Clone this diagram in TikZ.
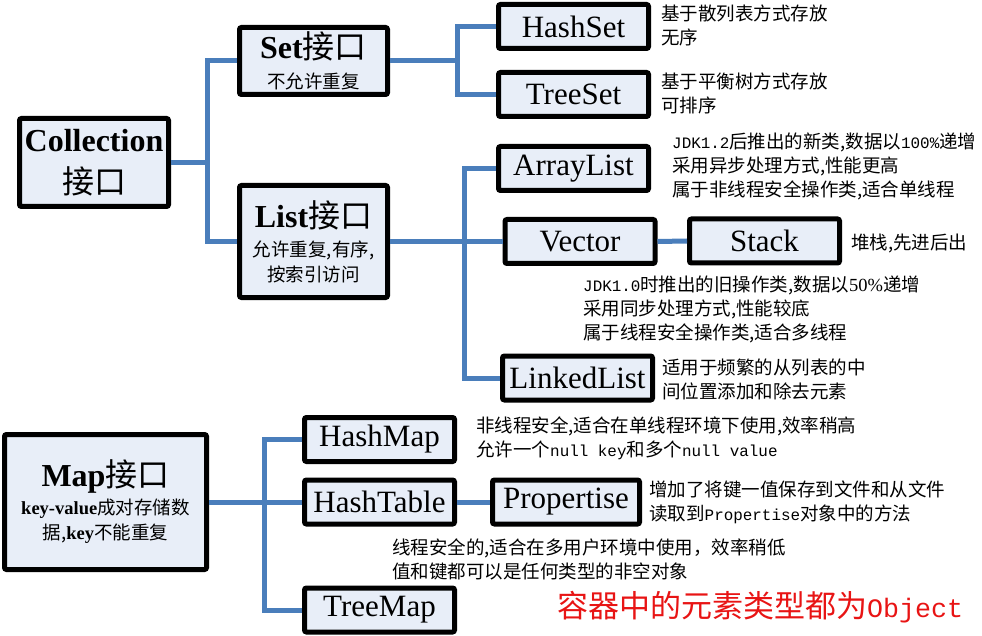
\documentclass[tikz,border=0pt]{standalone}
\usepackage{fontspec}
\setmainfont{Liberation Serif}
\newfontfamily\cjk{Noto Sans CJK SC}
\newfontfamily\mono[Scale=0.86]{Liberation Mono}
\usepackage{xcolor}
\definecolor{linkblue}{HTML}{4A7EBB}
\definecolor{boxfill}{HTML}{E8EEF8}
\definecolor{notered}{HTML}{E81414}
\usetikzlibrary{positioning}

\newcommand{\titlefont}{\fontsize{32}{36}\selectfont\bfseries}
\newcommand{\namefont}{\fontsize{31}{36}\selectfont}
\newcommand{\subfont}{\fontsize{18.5}{24}\selectfont}

\begin{document}
\begin{tikzpicture}[x=1pt, y=-1pt,
	box/.style={draw=black, line width=5pt, fill=boxfill, rounded corners=2pt, inner sep=0pt,
		align=center, minimum width=150pt, minimum height=44pt, font=\namefont},
	link/.style={draw=linkblue, line width=5pt},
	note/.style={anchor=west, inner sep=0pt, align=left, font=\subfont\cjk}]
	
	\useasboundingbox (0,0) rectangle (982,636);
	
	%interface boxes
	\node[box, minimum width=149pt, minimum height=88pt] (coll) at (94,162.5)
		{{\titlefont Collection}\\[6.5pt]{\titlefont\mdseries\cjk 接口}};
	\node[box, minimum width=148pt, minimum height=67pt] (set) at (313.5,61)
		{{\titlefont Set{\mdseries\cjk 接口}}\\[-6.5pt]{\subfont\cjk 不允许重复}};
	\node[box, minimum width=148pt, minimum height=112pt] (list) at (313.5,241.5)
		{{\titlefont List{\mdseries\cjk 接口}}\\[-7pt]{\subfont\cjk 允许重复,有序,}\\[-11pt]{\subfont\cjk 按索引访问}};
	\node[box, minimum width=202pt, minimum height=135pt] (map) at (105.5,502)
		{{\titlefont Map{\mdseries\cjk 接口}}\\[-8pt]{\subfont\textbf{key-value}\cjk 成对存储数}\\[-11pt]{\subfont{\cjk 据,}\textbf{key}\cjk 不能重复}};
	
	%class boxes
	\node[box] (hashset) at (573.5,26.5) {HashSet};
	\node[box] (treeset) at (573.5,94.5) {TreeSet};
	\node[box] (arraylist) at (573.5,168.5) {ArrayList};
	\node[box] (vector) at (580,241.5) {Vector};
	\node[box] (stack) at (764.5,241) {Stack};
	\node[box] (linkedlist) at (577.5,378) {LinkedList};
	\node[box] (hashmap) at (379.5,439.5) {HashMap};
	\node[box] (hashtable) at (379.5,502) {HashTable};
	\node[box] (treemap) at (379.5,610) {TreeMap};
	\node[box, minimum width=147pt] (propertise) at (566,502) {Propertise};
	
	%junctions
	\coordinate (cj) at (207,0);
	\coordinate (sj) at (457,0);
	\coordinate (lj) at (464,0);
	\coordinate (mj) at (264,0);
	
	%connectors
	\draw[link] (coll.east) -- (coll.east -| cj);
	\draw[link] (set.west) -| (cj |- list.west) -- (list.west);
	\draw[link] (set.east) -- (set.east -| sj);
	\draw[link] (hashset.west) -| (sj |- treeset.west) -- (treeset.west);
	\draw[link] (list.east) -- (vector.west);
	\draw[link] (arraylist.west) -| (lj |- linkedlist.west) -- (linkedlist.west);
	\draw[link] (vector.east) -- (stack.west);
	\draw[link] (map.east) -- (hashtable.west);
	\draw[link] (hashmap.west) -| (mj |- treemap.west) -- (treemap.west);
	\draw[link] (hashtable.east) -- (propertise.west);
	
	%notes
	\node[note] (hashsetnote) at (661,25) {基于散列表方式存放\\无序};
	\node[note] (treesetnote) at (661,93.5) {基于平衡树方式存放\\可排序};
	\node[note] (arraylistnote) at (672,166.5)
		{{\mono JDK1.2}后推出的新类,数据以{\mono 100\%}递增\\采用异步处理方式,性能更高\\属于非线程安全操作类,适合单线程};
	\node[note] (stacknote) at (851,243) {堆栈,先进后出};
	\node[note] (vectornote) at (583,309)
		{{\mono JDK1.0}时推出的旧操作类,数据以{\rmfamily 50\%}递增\\采用同步处理方式,性能较底\\属于线程安全操作类,适合多线程};
	\node[note] (linkedlistnote) at (662,379) {适用于频繁的从列表的中\\间位置添加和除去元素};
	\node[note] (hashmapnote) at (476,438.5)
		{非线程安全,适合在单线程环境下使用,效率稍高\\允许一个{\mono null key}和多个{\mono null value}};
	\node[note] (propertisenote) at (649,502) {增加了将键一值保存到文件和从文件\\读取到{\mono Propertise}对象中的方法};
	\node[note] (hashtablenote) at (392,559.5)
		{线程安全的,适合在多用户环境中使用，效率稍低\\值和键都可以是任何类型的非空对象};
	\node[note, font=\fontsize{31}{34}\selectfont\cjk, text=notered] (summary) at (557,607)
		{容器中的元素类型都为{\mono Object}};
	
\end{tikzpicture}
\end{document}
